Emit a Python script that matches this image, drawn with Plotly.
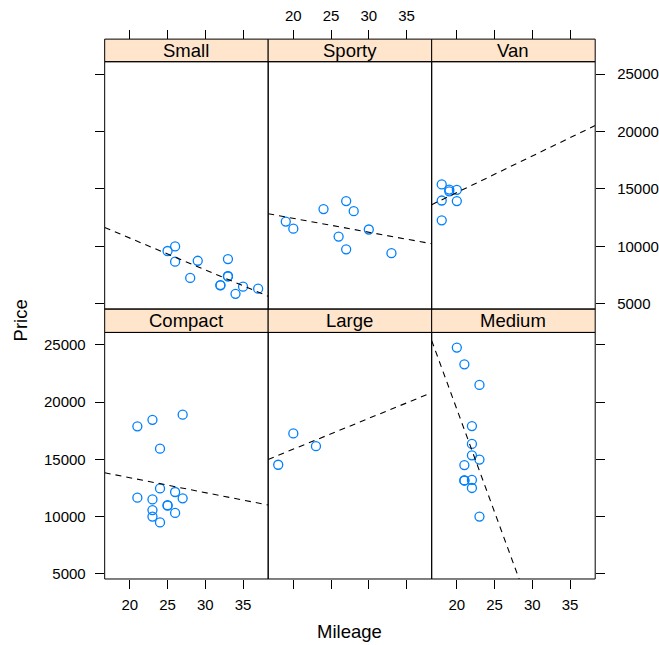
import numpy as np
import plotly.graph_objects as go

# ---- data (car.test.frame: Price vs Mileage by Type) ----
panel_types = ["Compact", "Large", "Medium", "Small", "Sporty", "Van"]

compact_mileage = [27, 23, 26, 25, 24, 26, 24, 25, 21, 21, 23, 24, 23, 27, 23]
compact_price = [18900, 10565, 10320, 10945, 9483, 12145, 12459, 10989, 17879,
                 11650, 9995, 15930, 11499, 11588, 18450]
large_mileage = [23, 18, 20]
large_price = [16145, 14525, 17257]
medium_mileage = [20, 21, 22, 22, 22, 22, 23, 23, 21, 22, 21, 21, 23]
medium_price = [24760, 13150, 12495, 16342, 15350, 13195, 14980, 9999, 23300,
                17899, 13150, 14495, 21498]
small_mileage = [33, 33, 37, 32, 32, 26, 33, 28, 25, 34, 29, 35, 26]
small_price = [8895, 7402, 6319, 6635, 6599, 8672, 7399, 7254, 9599, 5866,
               8748, 6488, 9995]
sporty_mileage = [20, 27, 19, 30, 33, 27, 24, 26, 28]
sporty_price = [11545, 9745, 12164, 11470, 9410, 13945, 13249, 10855, 13071]
van_mileage = [18, 18, 18, 19, 20, 20, 19]
van_price = [13995, 15395, 12267, 14944, 14929, 13949, 14799]

x_ticks = [20, 25, 30, 35]
x_tick_labels = ["20", "25", "30", "35"]
y_ticks = [5000, 10000, 15000, 20000, 25000]
y_tick_labels = ["5000", "10000", "15000", "20000", "25000"]

series = {
    "Compact": (compact_mileage, compact_price),
    "Large": (large_mileage, large_price),
    "Medium": (medium_mileage, medium_price),
    "Small": (small_mileage, small_price),
    "Sporty": (sporty_mileage, sporty_price),
    "Van": (van_mileage, van_price),
}

# ---- layout geometry (pixels) ----
W, H = 659, 645
cols_px = [(105, 269), (269, 433), (433, 597)]
rows_px = {"bottom": (334, 581.7), "top": (62, 310.5)}
strips_px = {"bottom": (310.5, 334), "top": (39.3, 62)}
placement = {
    "Compact": ("bottom", 0), "Large": ("bottom", 1), "Medium": ("bottom", 2),
    "Small": ("top", 0), "Sporty": ("top", 1), "Van": ("top", 2),
}

def px_x(p):
    return p / W

def px_y(p):
    return 1 - p / H

all_x = np.concatenate([np.array(v[0], float) for v in series.values()])
all_y = np.concatenate([np.array(v[1], float) for v in series.values()])
ext = 0.07
xr = [all_x.min() - ext * (all_x.max() - all_x.min()), all_x.max() + ext * (all_x.max() - all_x.min())]
yr = [all_y.min() - ext * (all_y.max() - all_y.min()), all_y.max() + ext * (all_y.max() - all_y.min())]

FONT = "Liberation Sans, Arial, Helvetica, sans-serif"
TICK_FS = 15
STRIP_FS = 18.5
POINT_COL = "#0080ff"
STRIP_BG = "#ffe5cc"

fig = go.Figure()
layout = dict(
    width=W, height=H, margin=dict(l=0, r=0, t=0, b=0),
    paper_bgcolor="white", plot_bgcolor="white", showlegend=False,
    font=dict(family=FONT, size=TICK_FS, color="black"),
)
shapes = []
annotations = []

for k, t in enumerate(panel_types, start=1):
    row, col = placement[t]
    xs, ys = series[t]
    xa = "x" if k == 1 else f"x{k}"
    ya = "y" if k == 1 else f"y{k}"
    fig.add_trace(go.Scatter(
        x=xs, y=ys, mode="markers", xaxis=xa, yaxis=ya,
        marker=dict(symbol="circle-open", size=9, color=POINT_COL,
                    line=dict(color=POINT_COL, width=1.3)),
        hoverinfo="skip"))
    slope, intercept = np.polyfit(np.array(xs, float), np.array(ys, float), 1)
    lx = np.array(xr)
    fig.add_trace(go.Scatter(
        x=lx, y=slope * lx + intercept, mode="lines", xaxis=xa, yaxis=ya,
        line=dict(color="black", width=1.1, dash="6px,5px"), hoverinfo="skip"))

    x0, x1 = cols_px[col]
    y0, y1 = rows_px[row]
    s0, s1 = strips_px[row]
    xd = [px_x(x0), px_x(x1)]
    yd = [px_y(y1), px_y(y0)]

    xkey = "xaxis" if k == 1 else f"xaxis{k}"
    ykey = "yaxis" if k == 1 else f"yaxis{k}"
    xaxis = dict(domain=xd, range=xr, showgrid=False, zeroline=False,
                 showline=False, ticks="outside", ticklen=9, tickwidth=1,
                 tickcolor="black", tickmode="array", tickvals=x_ticks,
                 ticktext=x_tick_labels,
                 tickfont=dict(size=TICK_FS, family=FONT, color="black"),
                 ticklabelstandoff=3, fixedrange=True)
    if row == "bottom":
        xaxis.update(anchor=ya, side="bottom", showticklabels=(col != 1))
    else:
        xaxis.update(anchor="free", position=px_y(s0), side="top",
                     showticklabels=(col == 1))
    yaxis = dict(domain=yd, range=yr, showgrid=False, zeroline=False,
                 showline=False, tickmode="array", tickvals=y_ticks,
                 ticktext=y_tick_labels, anchor=xa,
                 tickfont=dict(size=TICK_FS, family=FONT, color="black"),
                 fixedrange=True)
    if col == 0:
        yaxis.update(side="left", ticks="outside", ticklen=9, tickwidth=1,
                     tickcolor="black", showticklabels=(row == "bottom"),
                     ticklabelstandoff=6)
    elif col == 2:
        yaxis.update(side="right", ticks="outside", ticklen=9, tickwidth=1,
                     tickcolor="black", showticklabels=(row == "top"),
                     ticklabelstandoff=9)
    else:
        yaxis.update(ticks="", showticklabels=False)
    layout[xkey] = xaxis
    layout[ykey] = yaxis

    # strip
    shapes.append(dict(type="rect", xref="paper", yref="paper",
                       x0=px_x(x0), x1=px_x(x1), y0=px_y(s1), y1=px_y(s0),
                       fillcolor=STRIP_BG, line=dict(color="black", width=1),
                       layer="above"))
    annotations.append(dict(text=t, xref="paper", yref="paper",
                            x=(px_x(x0) + px_x(x1)) / 2, y=(px_y(s0) + px_y(s1)) / 2,
                            showarrow=False, xanchor="center", yanchor="middle",
                            font=dict(size=STRIP_FS, family=FONT, color="black")))
    # panel border
    shapes.append(dict(type="rect", xref="paper", yref="paper",
                       x0=px_x(x0), x1=px_x(x1), y0=px_y(y1), y1=px_y(y0),
                       line=dict(color="black", width=1), layer="above"))

annotations.append(dict(text="Mileage", xref="paper", yref="paper",
                        x=px_x(351), y=px_y(634), showarrow=False,
                        xanchor="center", yanchor="middle",
                        font=dict(size=STRIP_FS, family=FONT, color="black")))
annotations.append(dict(text="Price", xref="paper", yref="paper",
                        x=px_x(21), y=px_y(322), showarrow=False, textangle=-90,
                        xanchor="center", yanchor="middle",
                        font=dict(size=STRIP_FS, family=FONT, color="black")))

layout["shapes"] = shapes
layout["annotations"] = annotations
fig.update_layout(**layout)
fig.write_html("out.html")
